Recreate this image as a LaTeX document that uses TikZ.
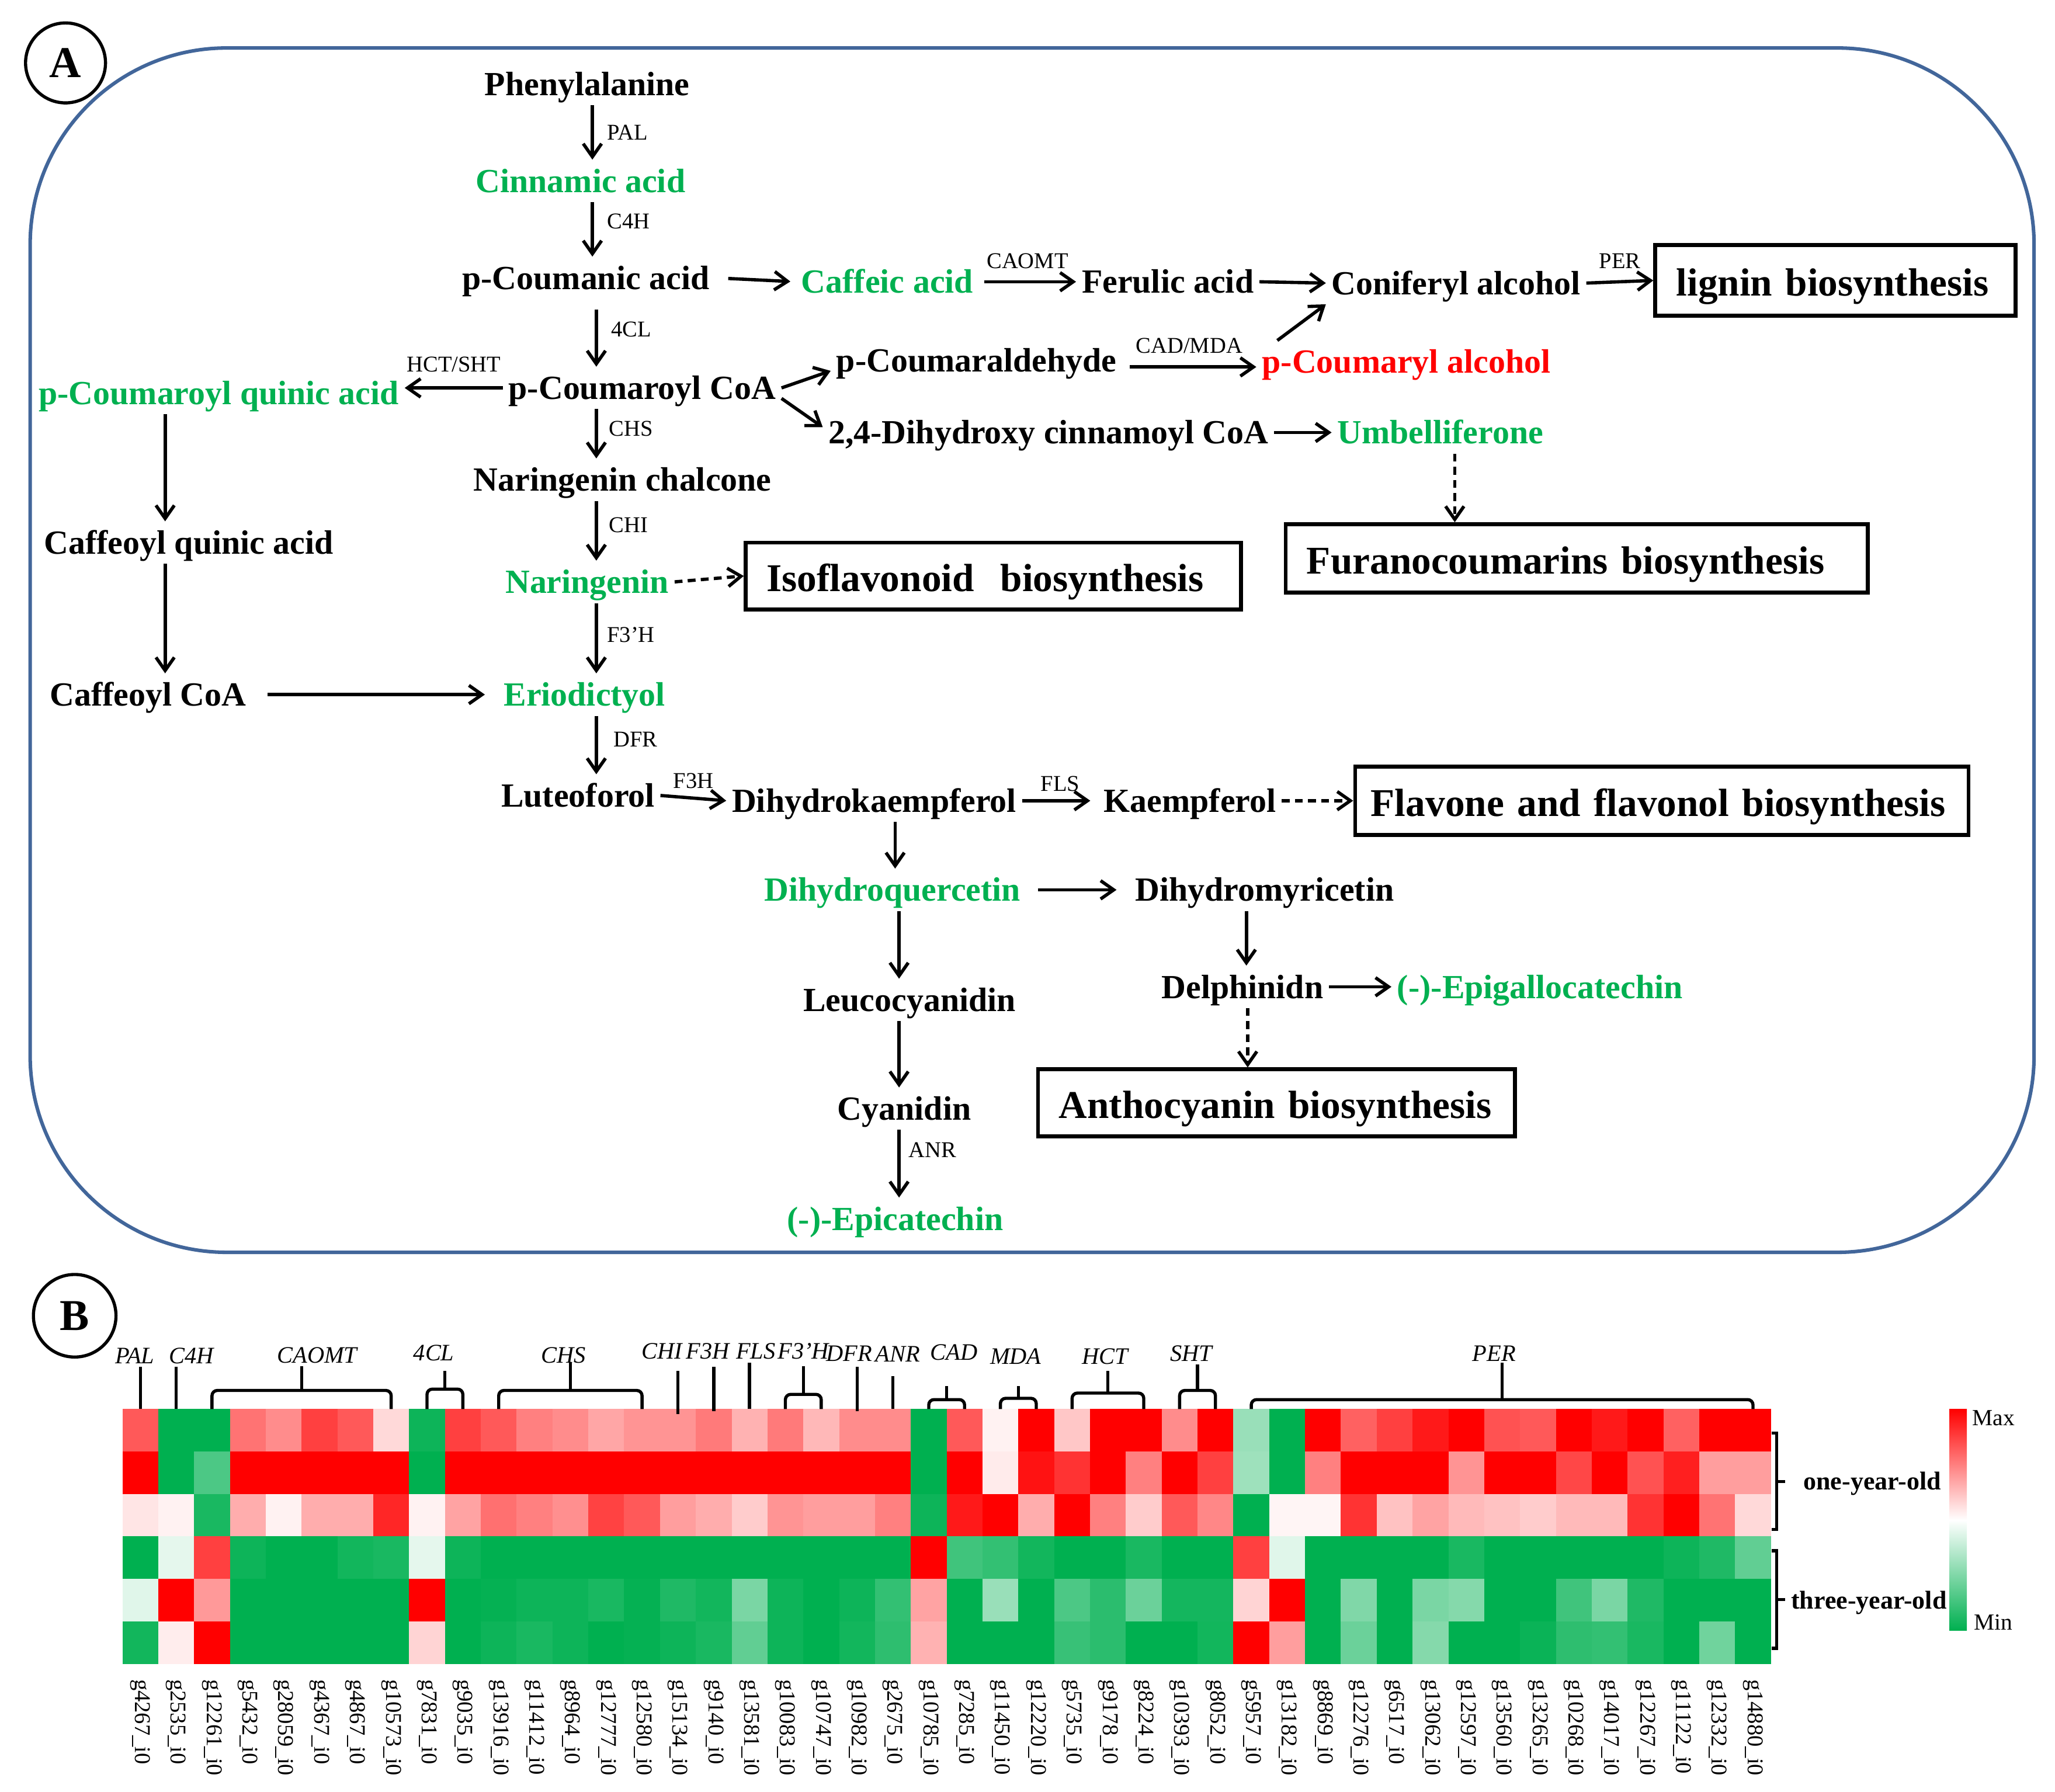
\documentclass[tikz,border=0pt]{standalone}
\usepackage{fontspec}
\setmainfont{Liberation Serif}
\usetikzlibrary{arrows.meta}
\definecolor{tgreen}{RGB}{0,176,80}
\definecolor{tred}{RGB}{255,0,0}
\definecolor{frameblue}{RGB}{66,102,154}
% one row of the heat map: #1 row, #2 values (-1 = min ... 1 = max)
\def\heatrow#1#2{\foreach \v [count=\c from 0] in {#2}{%
    \pgfmathsetmacro\pct{abs(\v)*100}%
    \ifdim \v pt<0pt \def\hc{tgreen}\else\def\hc{tred}\fi
    \fill[\hc!\pct!white] ({93.4+\c*27.344},{1075.2+#1*32.4}) rectangle ++(27.6,32.6);}}
\def\genebrack(#1:#2:#3:#4){%
  \pgfmathsetmacro\xl{93.4+(#1+0.5)*27.344}%
  \pgfmathsetmacro\xr{93.4+(#2+0.5)*27.344}%
  \pgfmathsetmacro\xm{(\xl+\xr)/2}%
  \draw[brk,rounded corners=2pt] (\xl,1075.2) -- (\xl,#3) -- (\xr,#3) -- (\xr,1075.2);
  \draw[brk] (\xm,#3) -- (\xm,#4);}
\def\geneline(#1:#2:#3){%
  \pgfmathsetmacro\xl{93.4+(#1+0.5)*27.344}%
  \draw[brk] (\xl,#2) -- (\xl,#3);}

\begin{document}
\begin{tikzpicture}[x=0.5pt,y=-0.5pt,
    met/.style={font=\bfseries\fontsize{12.9}{14}\selectfont,inner sep=2pt,text height=10.25pt,text depth=1.55pt},
    metg/.style={met,text=tgreen},
    metr/.style={met,text=tred},
    enz/.style={font=\fontsize{8.6}{9}\selectfont,inner sep=1.5pt},
    pbox/.style={draw,line width=1.5pt,font=\bfseries\fontsize{15}{17}\selectfont,inner xsep=8pt,inner ysep=0pt,align=left,text height=15pt,text depth=3.3pt},
    arr/.style={line width=1.25pt,-{Straight Barb[length=5pt,width=7pt]}},
    darr/.style={arr,dash pattern=on 3pt off 2pt},
    grp/.style={font=\itshape\fontsize{9}{10}\selectfont,inner sep=0pt},
    gene/.style={font=\fontsize{8.6}{9}\selectfont,rotate=-90,anchor=west,inner sep=0pt},
    brk/.style={line width=1.2pt},
    panel/.style={circle,draw,line width=1.2pt,font=\bfseries\fontsize{16.8}{18}\selectfont,inner sep=0pt}]
  \useasboundingbox (0,0) rectangle (1568,1367.4);

  %%%%% PANEL A %%%%%
  \draw[frameblue,line width=1.35pt,rounded corners=75pt] (23,36.6) rectangle (1552,955.6);
  \node[panel,minimum size=30.5pt] (pA) at (50,48) {A};

  \node[met]  (phe)   at (448,64)   {Phenylalanine};
  \node[metg] (cin)   at (443,138)  {Cinnamic acid};
  \node[met]  (pcou)  at (447,212)  {p-Coumanic acid};
  \node[metg] (caf)   at (677,215)  {Caffeic acid};
  \node[met]  (fer)   at (891,215)  {Ferulic acid};
  \node[met]  (conif) at (1111,216) {Coniferyl alcohol};
  \node[pbox,text width=121.5pt,minimum height=27pt] (lig) at (1400.5,214) {lignin biosynthesis};
  \node[met]  (pcoa)  at (490,296)  {p-Coumaroyl CoA};
  \node[metg] (pcq)   at (167,300)  {p-Coumaroyl quinic acid};
  \node[met]  (pald)  at (745,275)  {p-Coumaraldehyde};
  \node[metr] (pcal)  at (1073,276) {p-Coumaryl alcohol};
  \node[met]  (dhc)   at (800,330)  {2,4-Dihydroxy cinnamoyl CoA};
  \node[metg] (umb)   at (1099,330) {Umbelliferone};
  \node[pbox,text width=206pt,minimum height=26pt] (fur) at (1203,426) {Furanocoumarins biosynthesis};
  \node[met]  (nch)   at (475,366)  {Naringenin chalcone};
  \node[metg] (nar)   at (448,444)  {Naringenin};
  \node[pbox,text width=173pt,minimum height=25.5pt] (iso) at (758,439.5) {Isoflavonoid~ biosynthesis};
  \node[met]  (cqa)   at (144,414)  {Caffeoyl quinic acid};
  \node[met]  (ccoa)  at (113,530)  {Caffeoyl CoA};
  \node[metg] (eri)   at (446,530)  {Eriodictyol};
  \node[met]  (lut)   at (441,607)  {Luteoforol};
  \node[met]  (dhk)   at (667,611)  {Dihydrokaempferol};
  \node[met]  (kae)   at (908,611)  {Kaempferol};
  \node[pbox,text width=222pt,inner xsep=6pt,minimum height=26pt] (flv) at (1268,611) {\mbox{Flavone and flavonol biosynthesis}};
  \node[metg] (dhq)   at (681,679)  {Dihydroquercetin};
  \node[met]  (dhm)   at (965,679)  {Dihydromyricetin};
  \node[met]  (del)   at (948,753)  {Delphinidn};
  \node[metg] (egc)   at (1175,753) {(-)-Epigallocatechin};
  \node[pbox,text width=166pt,minimum height=25.5pt] (ant) at (974,841.5) {Anthocyanin biosynthesis};
  \node[met]  (leu)   at (694,763)  {Leucocyanidin};
  \node[met]  (cya)   at (690,846)  {Cyanidin};
  \node[metg] (epc)   at (683,930)  {(-)-Epicatechin};

  % main stem
  \draw[arr] ([xshift=2pt]phe.south) -- ([xshift=4.5pt]cin.north) node[enz,midway,right=3.5pt] (ePAL) {PAL};
  \draw[arr] ([xshift=4.5pt]cin.south) -- ([xshift=2.5pt]pcou.north) node[enz,pos=0.35,right=3.5pt] (eC4H) {C4H};
  \draw[arr,shorten <=4pt] ([xshift=4pt]pcou.south) -- ([xshift=-17.5pt]pcoa.north) node[enz,pos=0.45,right=3.5pt] (e4CL) {4CL};
  \draw[arr] ([xshift=-17.5pt]pcoa.south) -- ([xshift=-10pt]nch.north) node[enz,pos=0.4,right=2.8pt] (eCHS) {CHS};
  \draw[arr] ([xshift=-10pt]nch.south) -- ([xshift=3.5pt]nar.north) node[enz,pos=0.4,right=2.8pt] (eCHI) {CHI};
  \draw[arr] ([xshift=3.5pt]nar.south) -- ([xshift=4.5pt]eri.north) node[enz,pos=0.45,right=2pt] (eF3pH) {F3'H};
  \draw[arr] ([xshift=4.5pt]eri.south) -- ([xshift=7pt]lut.north) node[enz,pos=0.4,right=4.4pt] (eDFR) {DFR};

  % lignin branch
  \draw[arr,shorten <=5pt,shorten >=2pt] (pcou.east) -- (caf.west);
  \draw[arr,shorten <=2pt] (caf.east) -- (fer.west) node[enz,midway,above=3pt] (eCAOMT) {CAOMT};
  \draw[arr] (fer.east) -- (conif.west);
  \draw[arr] (conif.east) -- (lig.west) node[enz,midway,above=3pt] (ePER) {PER};
  \draw[arr] (pcoa.east) -- ([yshift=-4pt]pald.west);
  \draw[arr] ([yshift=-4pt]pcoa.east) -- ([yshift=2pt]dhc.west);
  \draw[arr,shorten <=3pt] ([yshift=-2.5pt]pald.east) -- ([yshift=-2pt]pcal.west) node[enz,midway,above=3pt] (eCAD) {CAD/MDA};
  \draw[arr] ([xshift=8pt]pcal.north west) -- (conif.south west);
  \draw[arr] (dhc.east) -- (umb.west);
  \draw[darr] ([xshift=5.5pt]umb.south) -- ([xshift=-46.5pt]fur.north);

  % quinic acid branch
  \draw[arr] (pcoa.west) -- ([yshift=2pt]pcq.east) node[enz,midway,above=4pt] (eHCT) {HCT/SHT};
  \draw[arr] ([xshift=-20.5pt]pcq.south) -- ([xshift=-9pt]cqa.north);
  \draw[arr] ([xshift=-9pt]cqa.south) -- ([xshift=6.5pt]ccoa.north);
  \draw[arr,shorten <=6pt,shorten >=5pt] (ccoa.east) -- (eri.west);

  % flavonoids
  \draw[darr] (nar.east) -- (iso.west);
  \draw[arr] (lut.east) -- (dhk.west) node[enz,midway,above=1.5pt] (eF3H) {F3H};
  \draw[arr,shorten >=3pt] (dhk.east) -- (kae.west) node[enz,midway,above=1.5pt] (eFLS) {FLS};
  \draw[darr] (kae.east) -- (flv.west);
  \draw[arr] ([xshift=8pt]dhk.south) -- ([xshift=1pt]dhq.north);
  \draw[arr,shorten <=4.5pt,shorten >=5pt] (dhq.east) -- (dhm.west);
  \draw[arr] ([xshift=-7pt]dhm.south) -- ([xshift=1.5pt]del.north);
  \draw[arr] (del.east) -- (egc.west);
  \draw[darr] ([xshift=2pt]del.south) -- ([xshift=-11pt]ant.north);
  \draw[arr] ([xshift=2.5pt]dhq.south) -- ([xshift=-4pt]leu.north);
  \draw[arr] ([xshift=-4pt]leu.south) -- ([xshift=-2pt]cya.north);
  \draw[arr] ([xshift=-2pt]cya.south) -- ([xshift=1.5pt]epc.north) node[enz,pos=0.3,right=1.5pt] (eANR) {ANR};

  %%%%% PANEL B %%%%%
  \node[panel,minimum size=31.5pt] (pB) at (57,1004) {B};

  \heatrow{0}{0.65,-1,-1,0.55,0.45,0.75,0.65,0.15,-0.95,0.75,0.65,0.5,0.45,0.35,0.42,0.42,0.52,0.3,0.52,0.28,0.45,0.45,-1,0.65,0.05,1,0.22,1,1,0.45,1,-0.4,-1,1,0.62,0.75,0.9,1,0.68,0.65,1,0.9,1,0.62,1,1}
  \heatrow{1}{1,-1,-0.7,1,1,1,1,1,-1,1,1,1,1,1,1,1,1,1,1,1,1,1,-1,1,0.08,0.93,0.8,1,0.5,1,0.75,-0.38,-1,0.5,1,1,1,0.42,1,1,0.72,1,0.68,0.88,0.38,0.38}
  \heatrow{2}{0.1,0.05,-0.9,0.32,0.05,0.32,0.32,0.85,0.05,0.36,0.56,0.5,0.44,0.74,0.65,0.38,0.32,0.2,0.42,0.38,0.38,0.5,-0.95,0.9,1,0.32,1,0.5,0.2,0.65,0.47,-1,0.04,0.04,0.8,0.24,0.36,0.27,0.24,0.2,0.27,0.27,0.8,1,0.55,0.15}
  \heatrow{3}{-1,-0.1,0.75,-0.95,-1,-1,-0.93,-0.9,-0.1,-0.95,-1,-1,-1,-1,-1,-1,-1,-1,-1,-1,-1,-1,1,-0.75,-0.8,-0.93,-1,-1,-0.9,-1,-1,0.75,-0.12,-1,-1,-1,-1,-0.9,-1,-1,-1,-1,-1,-0.95,-0.88,-0.62}
  \heatrow{4}{-0.12,1,0.4,-1,-1,-1,-1,-1,1,-1,-0.98,-0.95,-0.95,-0.9,-0.98,-0.88,-0.93,-0.52,-0.95,-1,-0.95,-0.8,0.36,-1,-0.4,-1,-0.7,-0.83,-0.58,-0.92,-0.92,0.17,1,-1,-0.5,-1,-0.52,-0.48,-1,-1,-0.75,-0.52,-0.88,-1,-1,-1}
  \heatrow{5}{-0.93,0.07,1,-1,-1,-1,-1,-1,0.17,-1,-0.95,-0.9,-0.95,-1,-0.98,-0.95,-0.9,-0.62,-0.95,-1,-0.93,-0.82,0.3,-1,-1,-1,-0.78,-0.83,-1,-1,-0.93,1,0.38,-1,-0.58,-1,-0.48,-1,-1,-0.96,-0.82,-0.8,-0.9,-1,-0.56,-1}

  % gene groups
  \node[grp] (gPAL)   at (103,1034.5) {PAL};
  \node[grp] (gC4H)   at (146,1034.5) {C4H};
  \node[grp] (gCAOMT) at (242,1034)   {CAOMT};
  \node[grp] (g4CL)   at (331,1032.5) {4CL};
  \node[grp] (gCHS)   at (430,1034)   {CHS};
  \node[grp] (gCHI)   at (505,1031)   {CHI};
  \node[grp] (gF3H)   at (540,1031)   {F3H};
  \node[grp] (gFLS)   at (576.7,1031) {FLS};
  \node[grp] (gF3pH)  at (613,1031)   {F3'H};
  \node[grp] (gDFR)   at (648,1033)   {DFR};
  \node[grp] (gANR)   at (685,1033)   {ANR};
  \node[grp] (gCAD)   at (728,1032)   {CAD};
  \node[grp] (gMDA)   at (775,1035)   {MDA};
  \node[grp] (gHCT)   at (843,1035)   {HCT};
  \node[grp] (gSHT)   at (909,1033)   {SHT};
  \node[grp] (gPER)   at (1140,1033)  {PER};

  \geneline(0:1043:1075.2)
  \geneline(1:1043:1075.2)
  \genebrack(2:7:1061:1042.5)
  \genebrack(8:9:1060:1046)
  \genebrack(10:14:1061:1039.5)
  \geneline(15:1046:1079)
  \geneline(16:1043:1077)
  \geneline(17:1040:1075.2)
  \genebrack(18:19:1064:1042.6)
  \geneline(20:1043:1077)
  \geneline(21:1050:1075.2)
  \genebrack(22:23:1068:1057.6)
  \genebrack(24:25:1067:1057.6)
  \genebrack(26:28:1063:1046)
  \genebrack(29:30:1061:1041)
  \genebrack(31:45:1068:1039.6)

  % gene names
  \foreach \g [count=\c from 0] in {4267,2535,12261,5432,28059,4367,4867,10573,7831,9035,13916,11412,8964,12777,12580,15134,9140,13581,10083,10747,10982,2675,10785,7285,11450,12220,5735,9178,8224,10393,8052,5957,13182,8869,12276,6517,13062,12597,13560,13265,10268,14017,12267,11122,12332,14880}{
    \pgfmathsetmacro\gx{93.4+(\c+0.5)*27.344}
    \node[gene] (n\g) at (\gx,1281) {g\g\_i0};
  }

  % sample groups
  \draw[brk] (1351.6,1093.5) -- (1355.5,1093.5) -- (1355.5,1167) -- (1351.6,1167);
  \draw[brk] (1355.5,1130.6) -- (1362,1130.6);
  \draw[brk] (1351.6,1183.3) -- (1355.5,1183.3) -- (1355.5,1257.7) -- (1351.6,1257.7);
  \draw[brk] (1355.5,1220.5) -- (1362,1220.5);
  \node[font=\bfseries\fontsize{9.8}{11}\selectfont,inner sep=0pt] (one) at (1428.5,1132) {one-year-old};
  \node[font=\bfseries\fontsize{9.8}{11}\selectfont,inner sep=0pt] (three) at (1426,1223) {three-year-old};

  % colour key
  \shade[top color=tred,bottom color=white] (1487.4,1075.2) rectangle (1500.7,1160);
  \shade[top color=white,bottom color=tgreen] (1487.4,1160) rectangle (1500.7,1244);
  \node[font=\fontsize{8.8}{10}\selectfont,inner sep=0pt] (kmax) at (1521,1082) {Max};
  \node[font=\fontsize{8.8}{10}\selectfont,inner sep=0pt] (kmin) at (1521,1238) {Min};
\end{tikzpicture}
\end{document}
